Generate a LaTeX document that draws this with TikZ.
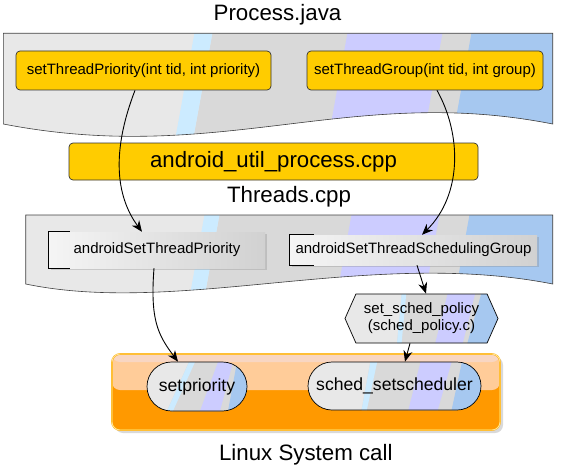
\documentclass[tikz,border=0pt]{standalone}
\usepackage{fontspec}
\setmainfont{Liberation Sans}
\usetikzlibrary{positioning, calc, arrows.meta, shapes.misc, shapes.symbols, shadows}

\definecolor{lgray}{HTML}{E8E8E8}
\definecolor{mgray}{HTML}{D9D9D9}
\definecolor{icecyan}{HTML}{CCEBFF}
\definecolor{lavender}{HTML}{CCCCFF}
\definecolor{skyblue}{HTML}{A6C8F0}
\definecolor{gold}{HTML}{FFCC00}
\definecolor{sysorange}{HTML}{FF9900}
\definecolor{peach}{HTML}{FFCC99}
\definecolor{paleband}{HTML}{F8D6C2}
\definecolor{rimorange}{HTML}{FFAA00}
\definecolor{rimyellow}{HTML}{FFE69A}

\begin{document}
\begin{tikzpicture}[x=1pt, y=-1pt,
    title/.style={anchor=base, inner sep=0pt, font=\fontsize{22.3}{26}\selectfont},
    javabox/.style={draw=black!80, line width=0.7pt, fill=gold, rounded corners=4pt, inner sep=0pt, font=\fontsize{15}{18}\selectfont},
    cppbox/.style={inner sep=0pt, left color=white!96!black, right color=black!18, font=\fontsize{15}{18}\selectfont,
        drop shadow={shadow xshift=2pt, shadow yshift=-2pt, opacity=0.3}},
    bracket/.style={draw=black, line width=0.9pt},
    banner/.style={draw=black!75, line width=0.6pt},
    glossy/.style={draw=black, line width=0.7pt, fill=lgray, inner sep=0pt, path picture={
        \foreach \ta/\tb/\ba/\bb/\col in {#1}
          \fill[\col] ($(path picture bounding box.north west)!\ta!(path picture bounding box.north east)$)
            -- ($(path picture bounding box.north west)!\tb!(path picture bounding box.north east)$)
            -- ($(path picture bounding box.south west)!\bb!(path picture bounding box.south east)$)
            -- ($(path picture bounding box.south west)!\ba!(path picture bounding box.south east)$) -- cycle;
    }},
    syscall/.style={rounded rectangle, glossy={#1}, font=\fontsize{17.6}{20}\selectfont},
    flow/.style={-{Stealth[length=11pt, width=9pt, inset=3.5pt]}, line width=0.9pt}]

    \useasboundingbox (0,0) rectangle (567,468);

    % Banners
    \draw[banner, path picture={
        \fill[mgray] (213,30) -- (560,30) -- (560,140) -- (193,140) -- cycle;
        \fill[icecyan] (195,30) -- (213,30) -- (193,140) -- (175,140) -- cycle;
        \fill[lavender] (348,30) -- (443,30) -- (423,140) -- (328,140) -- cycle;
        \fill[skyblue] (472,30) -- (560,30) -- (560,140) -- (452,140) -- cycle;
    }, fill=lgray] (3.3,33.3) -- (552.7,33.3) -- (552.7,124) .. controls (350,84) and (220,166) .. (3.3,124) -- cycle;
    \draw[banner, path picture={
        \fill[mgray] (220,212) -- (560,212) -- (560,300) -- (204,300) -- cycle;
        \fill[icecyan] (205,212) -- (220,212) -- (204,300) -- (189,300) -- cycle;
        \fill[lavender] (352,212) -- (440,212) -- (424,300) -- (336,300) -- cycle;
        \fill[skyblue] (470,212) -- (560,212) -- (560,300) -- (454,300) -- cycle;
    }, fill=lgray] (25.7,215) -- (552.7,215) -- (552.7,284) .. controls (370,248) and (180,316) .. (25.7,284) -- cycle;

    % Titles
    \node[title] (processTitle) at (277.5,20.7) {Process.java};
    \node[title] (threadsTitle) at (289,202.7) {Threads.cpp};
    \node[title] (linuxTitle) at (305.8,460) {Linux System call};

    % Nodes
    \node[javabox, minimum width=255, minimum height=39] (setPriority) at (143.5,70.5) {setThreadPriority(int tid, int priority)};
    \node[javabox, minimum width=236, minimum height=39] (setGroup) at (425,70.5) {setThreadGroup(int tid, int group)};
    \node[javabox, minimum width=409, minimum height=37, font=\fontsize{22.2}{26}\selectfont] (utilProcess) at (273.5,161.5) {android\_util\_process.cpp};

    \node[cppbox, minimum width=216, minimum height=36] (androidPriority) at (157,250) {androidSetThreadPriority};
    \node[cppbox, minimum width=247, minimum height=30] (androidGroup) at (413.5,250) {androidSetThreadSchedulingGroup};
    \draw[bracket] ([xshift=21pt]androidPriority.north west) -- (androidPriority.north west) -- (androidPriority.south west) -- ([xshift=21pt]androidPriority.south west);
    \draw[bracket] ([xshift=24pt]androidGroup.north west) -- (androidGroup.north west) -- (androidGroup.south west) -- ([xshift=24pt]androidGroup.south west);

    \node[signal, signal to=east and west, signal pointer angle=132, minimum width=153, minimum height=49, align=center,
        font=\fontsize{15}{17}\selectfont,
        glossy={0.37/1.2/0.34/1.2/mgray, 0.37/0.40/0.34/0.37/icecyan, 0.67/0.85/0.59/0.77/lavender, 0.89/1.2/0.80/1.2/skyblue}] (schedPolicy) at (421.5,318.5) {set\_sched\_policy\\(sched\_policy.c)};

    \node[rounded corners=8pt, minimum width=388, minimum height=76, fill=sysorange, draw=rimorange, double=rimyellow, double distance=0.8pt,
        drop shadow={shadow xshift=3pt, shadow yshift=-3pt, opacity=0.3},
        path picture={
            \fill[peach] (path picture bounding box.north west) rectangle ([yshift=2pt]path picture bounding box.east);
            \fill[paleband] (path picture bounding box.north west) rectangle ([yshift=-8pt]path picture bounding box.north east);
        }] (linuxBox) at (306,392) {};
    \node[syscall={0.42/1.2/0.20/1.2/mgray, 0.42/0.48/0.20/0.26/icecyan, 0.71/0.86/0.53/0.73/lavender, 0.90/1.2/0.81/1.2/skyblue},
        minimum width=100, minimum height=49] (setpriority) at (197,386.5) {setpriority};
    \node[syscall={0.36/1.2/0.31/1.2/mgray, 0.36/0.40/0.31/0.34/icecyan, 0.65/0.83/0.58/0.75/lavender, 0.89/1.2/0.83/1.2/skyblue},
        minimum width=173, minimum height=48] (schedSet) at (394.5,386) {sched\_setscheduler};

    % Arrows
    \draw[flow] ([xshift=-8.5pt]setPriority.south) .. controls (112,150) and (115,195) .. ([xshift=-15pt]androidPriority.north);
    \draw[flow] ([xshift=12pt]setGroup.south) .. controls (462,135) and (462,195) .. ([xshift=8.5pt]androidGroup.north);
    \draw[flow] ([xshift=-3pt]androidPriority.south) .. controls (150,320) and (158,335) .. ([xshift=-19pt]setpriority.north);
    \draw[flow] ([xshift=3.5pt]androidGroup.south) -- ([xshift=4.5pt]schedPolicy.north);
    \draw[flow] ([xshift=-11.5pt]schedPolicy.south) -- ([xshift=10.5pt]schedSet.north);
\end{tikzpicture}
\end{document}
